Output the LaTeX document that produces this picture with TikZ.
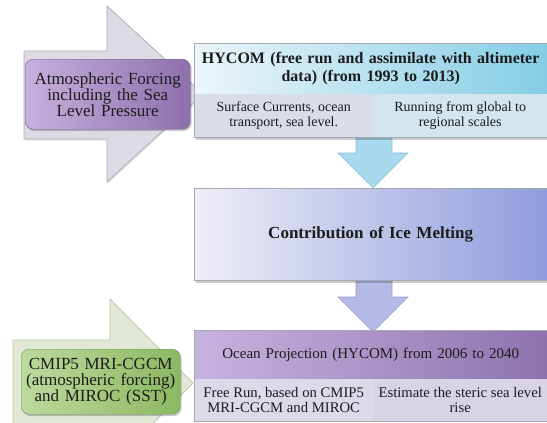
\documentclass[tikz,border=0pt]{standalone}
\usepackage{fontspec}
\setmainfont{Liberation Serif}
\definecolor{txt}{HTML}{1C1C1C}
\definecolor{greyarrowfill}{HTML}{DDDAE4}
\definecolor{greyarrowline}{HTML}{AAA8B2}
\definecolor{greenarrowfill}{HTML}{E1E9D6}
\definecolor{greenarrowline}{HTML}{B9C3AA}
\definecolor{purpL}{HTML}{C6B0DE}
\definecolor{purpR}{HTML}{8E70AC}
\definecolor{greenL}{HTML}{BCDA9C}
\definecolor{greenR}{HTML}{8CB862}
\definecolor{cyanL}{HTML}{ECF6FA}
\definecolor{cyanR}{HTML}{84CDE5}
\definecolor{cellA}{HTML}{D9DDE8}
\definecolor{cellB}{HTML}{D3E5ED}
\definecolor{iceL}{HTML}{EFEEF8}
\definecolor{iceR}{HTML}{8E9CDC}
\definecolor{oceanL}{HTML}{C8B3DF}
\definecolor{oceanR}{HTML}{8D72AE}
\definecolor{cellC}{HTML}{DDD9E9}
\definecolor{cellD}{HTML}{D8D4E6}
\definecolor{boxline}{HTML}{A4A8B4}
\definecolor{downA}{HTML}{A6DAEC}
\definecolor{downAline}{HTML}{8EBFD0}
\definecolor{downB}{HTML}{B6BAE6}
\definecolor{downBline}{HTML}{9A9CC4}
\begin{document}
\begin{tikzpicture}[x=1pt,y=-1pt,
  shadowed/.style={preaction={fill=black,opacity=.2,transform canvas={xshift=1.5pt,yshift=-2pt}}},
  softshadow/.style={preaction={fill=black,opacity=.1,transform canvas={xshift=1pt,yshift=-1.5pt}}},
  blockarrow/.style={line width=0.7pt,line join=miter},
  rbox/.style={rounded corners=8pt,inner sep=0pt,align=center,text=txt,anchor=north west,
    font=\fontsize{17}{16}\selectfont},
  cell/.style={inner sep=0pt,align=center,text=txt,anchor=north west,
    font=\fontsize{14}{15}\selectfont},
  head/.style={cell,font=\bfseries\fontsize{16}{18}\selectfont},
  boxborder/.style={draw=boxline,line width=0.8pt}
]
\useasboundingbox (0,0) rectangle (547,423);
\clip (0,0) rectangle (547,423);

% big grey block arrow (top left)
\draw[blockarrow,fill=greyarrowfill,draw=greyarrowline,softshadow]
  (24,51) -- (107,51) -- (107,6) -- (203,94) -- (107,182) -- (107,139) -- (24,139) -- cycle;

% green block arrow (bottom left)
\draw[blockarrow,fill=greenarrowfill,draw=greenarrowline]
  (13,340) -- (110,340) -- (110,299) -- (193,383) -- (110,467) -- (110,426) -- (13,426) -- cycle;

% down arrow 1 (cyan)
\draw[blockarrow,fill=downA,draw=downAline]
  (356,130) -- (392,130) -- (392,153) -- (408,153) -- (373,188) -- (338,153) -- (356,153) -- cycle;

% down arrow 2 (lavender)
\draw[blockarrow,fill=downB,draw=downBline]
  (356,275) -- (392,275) -- (392,297) -- (408,297) -- (373,332) -- (338,297) -- (356,297) -- cycle;

% HYCOM box
\fill[black,opacity=.2] (196,46) rectangle (549,140);
\node[head,left color=cyanL,right color=cyanR,minimum width=353pt,minimum height=51pt,text width=350pt]
  (hycomT) at (194,43) {HYCOM (free run and assimilate with altimeter\\data) (from 1993 to 2013)};
\node[cell,fill=cellA,minimum width=179pt,minimum height=43pt]
  (hycomL) at (194,94) {Surface Currents, ocean\\transport, sea level.};
\node[cell,fill=cellB,minimum width=174pt,minimum height=43pt]
  (hycomR) at (373,94) {Running from global to\\regional scales};
\draw[boxborder] (hycomT.north west) rectangle (hycomR.south east);

% Contribution box
\fill[black,opacity=.2] (196,191) rectangle (549,283);
\node[head,font=\bfseries\fontsize{17}{18}\selectfont,left color=iceL,right color=iceR,minimum width=353pt,minimum height=92pt,text width=345pt]
  (ice) at (194,188) {Contribution of Ice Melting};
\draw[boxborder] (ice.north west) rectangle (ice.south east);

% Ocean projection box
\node[cell,font=\fontsize{15}{17}\selectfont,left color=oceanL,right color=oceanR,minimum width=353pt,minimum height=49pt,text width=345pt]
  (oceanT) at (194,330) {Ocean Projection (HYCOM) from 2006 to 2040};
\node[cell,font=\fontsize{14.7}{15.5}\selectfont,fill=cellC,minimum width=179pt,minimum height=42pt]
  (oceanL) at (194,379) {Free Run, based on CMIP5\\MRI-CGCM and MIROC};
\node[cell,font=\fontsize{14.7}{15.5}\selectfont,fill=cellD,minimum width=174pt,minimum height=42pt]
  (oceanR) at (373,379) {Estimate the steric sea level\\rise};
\draw[boxborder] (oceanT.north west) rectangle (oceanR.south east);

% purple rounded box
\node[rbox,shadowed,left color=purpL,right color=purpR,draw=purpR!80!black,line width=0.4pt,
  minimum width=165pt,minimum height=70pt,text width=160pt]
  (atm) at (25,59) {Atmospheric Forcing\\including the Sea\\Level Pressure};

% green rounded box
\node[rbox,shadowed,left color=greenL,right color=greenR,draw=greenR!80!black,line width=0.4pt,
  minimum width=159pt,minimum height=65pt,text width=155pt]
  (cmip) at (21,349) {CMIP5 MRI-CGCM\\(atmospheric forcing)\\and MIROC (SST)};
\end{tikzpicture}
\end{document}
